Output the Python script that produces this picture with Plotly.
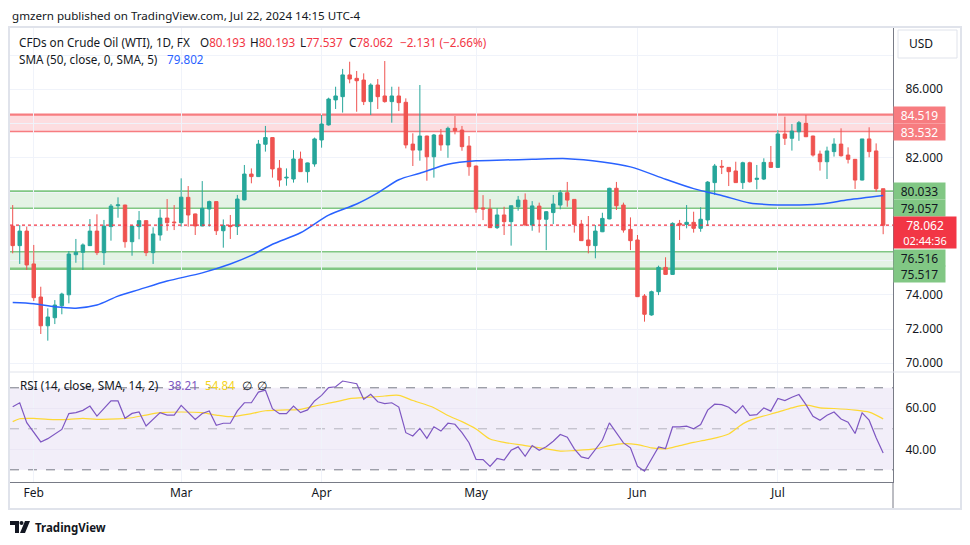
import pandas as pd
import plotly.graph_objects as go

# ---------------- data ----------------
dates = [d.strftime("%Y-%m-%d") for d in pd.bdate_range("2024-01-29", "2024-07-22")
         if d.strftime("%Y-%m-%d") != "2024-03-29"]

opens = [78.01, 76.87, 77.72, 75.80, 73.87, 72.19, 72.66, 73.36, 74.00, 76.34,
         76.48, 76.87, 77.72, 76.46, 77.98, 79.20, 79.24, 77.10, 77.98, 78.33,
         76.46, 77.49, 78.48, 78.25, 78.21, 79.69, 78.72, 78.02, 79.01, 79.44,
         77.74, 78.05, 77.98, 79.54, 81.05, 80.90, 82.79, 83.18, 81.39, 80.82,
         80.76, 81.93, 81.19, 81.64, 83.04, 83.92, 85.38, 85.57, 86.84, 86.64,
         86.54, 85.28, 86.25, 85.61, 85.28, 85.61, 85.24, 82.80, 82.45, 83.27,
         82.06, 83.33, 82.75, 83.72, 83.62, 82.69, 81.52, 79.07, 79.01, 77.92,
         78.66, 78.27, 79.14, 79.53, 78.07, 79.18, 78.41, 78.80, 79.24, 79.96,
         79.57, 78.13, 77.20, 76.87, 77.68, 78.43, 80.22, 79.24, 77.82, 77.20,
         73.93, 72.82, 74.18, 75.60, 75.19, 78.17, 78.11, 78.23, 77.88, 78.37,
         80.55, 81.50, 81.44, 81.23, 80.55, 81.71, 80.74, 80.76, 81.73, 81.44,
         83.39, 83.14, 83.52, 84.01, 83.27, 82.22, 81.77, 82.36, 82.80, 82.16,
         81.91, 80.70, 83.10, 82.40, 80.193]
highs = [79.24, 78.07, 77.98, 76.91, 74.47, 73.21, 73.69, 74.12, 76.55, 77.26,
         77.00, 78.42, 78.70, 78.37, 79.30, 79.69, 79.26, 78.05, 78.89, 78.35,
         77.94, 78.99, 79.59, 79.24, 80.80, 80.35, 78.74, 80.64, 79.50, 79.46,
         78.40, 78.66, 79.83, 81.58, 81.38, 83.04, 83.86, 83.20, 81.87, 81.38,
         82.45, 82.36, 81.72, 83.18, 84.50, 85.51, 86.15, 87.19, 87.61, 87.07,
         86.93, 86.35, 86.60, 87.65, 86.15, 86.15, 85.47, 83.43, 86.25, 83.29,
         83.39, 83.68, 83.82, 84.44, 83.86, 83.27, 81.54, 79.82, 79.59, 79.05,
         79.14, 79.20, 79.77, 79.92, 79.47, 79.38, 78.89, 79.83, 80.12, 80.59,
         79.59, 78.37, 78.60, 78.07, 78.79, 80.25, 80.59, 79.38, 78.52, 77.49,
         74.04, 74.24, 75.70, 76.19, 78.23, 78.37, 79.24, 78.85, 79.11, 80.64,
         81.64, 81.87, 81.46, 81.77, 81.77, 81.77, 81.58, 81.97, 82.69, 83.62,
         84.40, 83.97, 84.15, 84.50, 83.29, 82.42, 82.65, 83.14, 83.72, 82.61,
         81.93, 83.10, 83.78, 82.84, 80.193]
lows = [76.42, 75.80, 75.45, 73.64, 71.71, 71.32, 72.29, 72.86, 73.50, 75.87,
        75.45, 76.85, 76.32, 75.74, 77.16, 78.50, 76.75, 76.28, 77.24, 76.26,
        75.80, 77.16, 77.74, 77.78, 77.98, 77.98, 77.49, 78.00, 77.98, 77.49,
        76.75, 77.26, 77.49, 79.52, 80.51, 80.88, 82.36, 80.84, 80.31, 80.37,
        80.55, 81.17, 80.55, 81.48, 82.59, 83.88, 84.85, 84.64, 86.35, 84.69,
        85.08, 84.50, 84.85, 85.22, 84.05, 84.73, 82.55, 81.52, 81.83, 80.66,
        80.84, 82.41, 82.00, 83.37, 82.41, 80.95, 78.79, 78.36, 77.90, 77.84,
        77.49, 76.87, 78.91, 78.05, 77.74, 77.63, 76.61, 78.13, 78.99, 79.14,
        77.63, 77.14, 76.42, 76.13, 77.66, 78.41, 78.95, 77.63, 76.61, 73.87,
        72.43, 72.78, 73.98, 75.17, 75.17, 77.20, 77.88, 77.63, 77.68, 78.02,
        79.83, 81.05, 80.35, 80.53, 80.18, 80.55, 80.16, 80.70, 81.42, 81.42,
        82.75, 82.42, 82.99, 83.21, 82.07, 81.25, 80.76, 82.07, 82.07, 81.67,
        80.18, 80.68, 82.03, 80.02, 77.537]
closes = [76.87, 77.72, 75.74, 73.83, 72.19, 72.70, 73.40, 74.04, 76.38, 76.48,
          76.91, 77.72, 76.46, 78.01, 79.18, 79.25, 77.10, 78.01, 78.33, 76.46,
          77.55, 78.48, 78.21, 78.21, 79.70, 78.66, 78.02, 79.05, 79.44, 77.74,
          78.05, 77.98, 79.59, 81.05, 80.90, 82.80, 83.18, 81.35, 80.70, 80.86,
          81.93, 81.19, 81.70, 83.10, 83.97, 85.43, 85.61, 86.84, 86.60, 86.50,
          85.28, 86.25, 85.57, 85.28, 85.61, 85.22, 82.75, 82.45, 83.27, 82.06,
          83.33, 82.75, 83.72, 83.58, 82.65, 81.48, 79.01, 79.01, 77.92, 78.66,
          78.27, 79.20, 79.53, 78.07, 79.19, 78.41, 78.85, 79.30, 79.96, 79.53,
          78.11, 77.16, 76.87, 77.72, 78.46, 80.22, 79.20, 77.78, 77.16, 73.89,
          72.86, 74.18, 75.60, 75.19, 78.17, 78.07, 78.23, 77.88, 78.41, 80.58,
          81.52, 81.46, 81.19, 80.55, 81.71, 80.60, 80.80, 81.73, 81.44, 83.39,
          83.14, 83.56, 84.05, 83.23, 82.16, 81.77, 82.40, 82.80, 82.12, 81.91,
          80.70, 83.10, 82.36, 80.193, 78.062]

# SMA(50) readings at selected bars
sma_idx = [0, 3, 6, 9, 12, 15, 18, 22, 27, 31, 34, 37, 41, 45, 49, 52, 55, 58, 62, 66,
           70, 74, 79, 84, 88, 93, 97, 101, 105, 109, 115, 119, 124]
sma_val = [73.55, 73.48, 73.30, 73.22, 73.40, 73.92, 74.30, 74.80, 75.28, 75.80, 76.30,
           76.95, 77.62, 78.65, 79.30, 79.95, 80.72, 81.10, 81.62, 81.82, 81.87, 81.91,
           81.95, 81.76, 81.47, 80.75, 80.20, 79.80, 79.36, 79.25, 79.30, 79.55, 79.802]

rsi = [60.8, 62.7, 53.0, 48.1, 43.6, 45.2, 47.6, 49.7, 57.4, 57.9,
       59.0, 61.1, 56.2, 59.8, 63.6, 63.6, 55.1, 57.5, 58.2, 51.4,
       54.9, 57.9, 56.7, 56.7, 61.4, 57.9, 54.6, 57.5, 58.7, 51.7,
       52.7, 52.7, 58.7, 62.7, 62.7, 67.9, 68.8, 59.8, 57.4, 57.4,
       61.1, 57.9, 59.2, 63.6, 66.3, 70.1, 70.5, 73.3, 72.5, 72.0,
       64.4, 66.8, 63.2, 62.3, 62.7, 60.6, 48.1, 46.5, 50.2, 45.3,
       51.0, 48.9, 52.7, 52.2, 48.1, 43.2, 35.1, 35.0, 31.7, 35.5,
       34.7, 39.5, 41.2, 36.6, 41.8, 39.5, 41.2, 43.9, 47.2, 45.9,
       40.2, 36.3, 35.5, 39.9, 44.4, 52.9, 48.3, 43.1, 40.7, 31.7,
       29.3, 35.0, 41.2, 40.4, 50.9, 50.9, 51.3, 50.0, 52.1, 59.1,
       62.0, 61.8, 60.5, 57.6, 61.3, 56.6, 56.9, 60.2, 58.6, 64.8,
       63.8, 65.4, 66.7, 61.8, 56.1, 54.2, 56.6, 58.2, 54.8, 53.2,
       47.7, 57.8, 54.2, 45.6, 38.21]

rsima_idx = [0, 1, 3, 5, 8, 10, 12, 15, 17, 19, 21, 24, 27, 29, 31, 34, 36, 39, 41, 43,
             46, 48, 50, 53, 55, 57, 60, 62, 64, 66, 68, 70, 73, 76, 78, 80, 83, 85, 87, 89,
             91, 93, 95, 97, 99, 102, 104, 106, 109, 111, 113, 115, 117, 120, 122, 124]
rsima_val = [53.5, 54.9, 55.1, 54.6, 54.6, 55.1, 54.6, 54.8, 55.4, 56.7, 57.9, 58.2, 57.9,
             56.7, 55.9, 57.4, 58.8, 59.2, 59.5, 61.1, 63.1, 64.7, 65.2, 66.0, 66.3, 63.8,
             60.3, 56.5, 53.5, 49.9, 45.0, 43.4, 41.8, 40.2, 39.1, 39.4, 40.2, 41.8, 42.8,
             42.3, 40.7, 40.2, 41.8, 43.4, 44.7, 47.5, 52.4, 55.3, 58.1, 60.2, 61.5, 60.2,
             59.9, 59.1, 58.1, 54.84]

month_ticks = ["2024-02-01", "2024-03-01", "2024-04-01", "2024-05-01", "2024-06-03", "2024-07-01"]
month_labels = ["Feb", "Mar", "Apr", "May", "Jun", "Jul"]

price_ticks = [70, 72, 74, 76, 78, 80, 82, 84, 86, 88]
price_labels = ["70.000", "72.000", "74.000", "", "", "", "82.000", "", "86.000", ""]

resist_zone = [83.532, 84.519]
support_hi = [79.057, 80.033]
support_lo = [75.517, 76.516]
last_price = 78.062
countdown = "02:44:36"

# ---------------- styling helpers ----------------
W, H = 970, 545
L, R, T, B = 10, 893, 27, 482
PW, PH = R - L, B - T


def px(x):
    return (x - L) / PW


def py(y):
    return (B - y) / PH


UP, DOWN = "#26a69a", "#ef5350"
TXT = "#131722"
GRID = "#f0f3fa"
AXL = "#787b86"
FONT = "Noto Sans"
split = py(372)

fig = go.Figure()
fig.add_trace(go.Candlestick(
    x=dates, open=opens, high=highs, low=lows, close=closes,
    increasing=dict(line=dict(color=UP, width=1), fillcolor=UP),
    decreasing=dict(line=dict(color=DOWN, width=1), fillcolor=DOWN),
    whiskerwidth=0, showlegend=False, hoverinfo="skip"))
fig.add_trace(go.Scatter(
    x=[dates[i] for i in sma_idx], y=sma_val, mode="lines",
    line=dict(color="#2962ff", width=1.5, shape="spline", smoothing=0.8),
    showlegend=False, hoverinfo="skip"))
fig.add_trace(go.Scatter(
    x=[dates[i] for i in rsima_idx], y=rsima_val, mode="lines", yaxis="y2",
    line=dict(color="#fdd835", width=1.2, shape="spline", smoothing=0.8),
    showlegend=False, hoverinfo="skip"))
fig.add_trace(go.Scatter(
    x=dates, y=rsi, mode="lines", yaxis="y2",
    line=dict(color="#7e57c2", width=1.2),
    showlegend=False, hoverinfo="skip"))

shapes = []


def hline(y, color, width, dash="solid", yref="y", layer="below"):
    shapes.append(dict(type="line", xref="paper", x0=0, x1=1, yref=yref, y0=y, y1=y,
                       line=dict(color=color, width=width, dash=dash), layer=layer))


def zone(lo, hi, fill):
    shapes.append(dict(type="rect", xref="paper", x0=0, x1=1, yref="y", y0=lo, y1=hi,
                       fillcolor=fill, line=dict(width=0), layer="below"))


zone(resist_zone[0], resist_zone[1], "rgba(242,54,69,0.17)")
zone(support_hi[0], support_hi[1], "rgba(76,175,80,0.15)")
zone(support_lo[0], support_lo[1], "rgba(76,175,80,0.15)")
hline(resist_zone[1], "#f77c80", 2.2)
hline(resist_zone[0], "#f77c80", 1.5)
hline(support_hi[1], "#81c784", 2.5)
hline(support_hi[0], "#81c784", 1.5)
hline(support_lo[1], "#81c784", 1.5)
hline(support_lo[0], "#81c784", 2.5)
hline(last_price, "#f23645", 1.2, dash="dot", layer="above")

# RSI band and levels
shapes.append(dict(type="rect", xref="paper", x0=0, x1=1, yref="y2", y0=30, y1=70,
                   fillcolor="rgba(126,87,194,0.1)", line=dict(width=0), layer="below"))
hline(70, AXL, 1, dash="dash", yref="y2")
hline(30, AXL, 1, dash="dash", yref="y2")
hline(50, "rgba(120,123,134,0.5)", 1, dash="dash", yref="y2")

# pane separator, price axis extension, outer frame, USD button
shapes.append(dict(type="line", xref="paper", yref="paper", x0=0, x1=px(961), y0=split, y1=split,
                   line=dict(color="#e0e3eb", width=1)))
shapes.append(dict(type="line", xref="paper", yref="paper", x0=1, x1=1, y0=0, y1=py(509),
                   line=dict(color=AXL, width=1)))
shapes.append(dict(type="rect", xref="paper", yref="paper", x0=px(9), x1=px(961),
                   y0=py(509), y1=py(27), line=dict(color="#e0e3eb", width=2)))
shapes.append(dict(type="rect", xref="paper", yref="paper", x0=px(898), x1=px(957),
                   y0=py(58), y1=py(30), fillcolor="white", line=dict(color="#e0e3eb", width=1)))

# TradingView logo (icon)
shapes.append(dict(type="path", xref="paper", yref="paper",
                   path=f"M {px(10)},{py(521)} L {px(19)},{py(521)} L {px(19)},{py(533)} "
                        f"L {px(15)},{py(533)} L {px(15)},{py(525)} L {px(10)},{py(525)} Z",
                   fillcolor=TXT, line=dict(width=0)))
shapes.append(dict(type="circle", xref="paper", yref="paper", x0=px(19.5), x1=px(23.5),
                   y0=py(525), y1=py(521), fillcolor=TXT, line=dict(width=0)))
shapes.append(dict(type="path", xref="paper", yref="paper",
                   path=f"M {px(25)},{py(521)} L {px(30)},{py(521)} L {px(25)},{py(533)} "
                        f"L {px(20)},{py(533)} Z",
                   fillcolor=TXT, line=dict(width=0)))

ann = []


def text(x, y, s, size=12, color=TXT, anchor="left"):
    ann.append(dict(xref="paper", yref="paper", x=px(x), y=py(y), text=s, showarrow=False,
                    xanchor=anchor, yanchor="middle", font=dict(size=size, color=color, family=FONT)))


red = "#f23645"
text(10, 15, "gmzern published on TradingView.com, Jul 22, 2024 14:15 UTC-4", 11.6)
text(17, 42, "CFDs on Crude Oil (WTI), 1D, FX", 11.7)
text(198, 42, f"O<span style='color:{red}'>{opens[-1]:.3f}</span>", 11.7)
text(248, 42, f"H<span style='color:{red}'>{highs[-1]:.3f}</span>", 11.7)
text(298, 42, f"L<span style='color:{red}'>{lows[-1]:.3f}</span>", 11.7)
text(347, 42, f"C<span style='color:{red}'>{closes[-1]:.3f}</span>", 11.7)
chg = closes[-1] - closes[-2]
text(398, 42, f"−{abs(chg):.3f} (−{abs(chg) / closes[-2] * 100:.2f}%)", 11.7, red)
text(17, 59, "SMA (50, close, 0, SMA, 5)", 11.7)
text(165, 59, f"{sma_val[-1]:.3f}", 11.7, "#2962ff")
text(18, 385, "RSI (14, close, SMA, 14, 2)", 11.7)
text(166, 385, f"{rsi[-1]:.2f}", 11.7, "#7e57c2")
text(203, 385, f"{rsima_val[-1]:.2f}", 11.7, "#f5d422")
text(240, 385, "∅", 11.7)
text(255, 385, "∅", 11.7)
text(907, 44, "USD", 12)
text(33, 527, "<b>TradingView</b>", 11.5)


def axis_label(y, s, bg, fg, w=49, h=14, yshift=0, size=12):
    ann.append(dict(xref="paper", yref="y", x=1, y=y, text=s, showarrow=False,
                    xanchor="left", yanchor="middle", bgcolor=bg, width=w, height=h,
                    borderpad=1, align="center", yshift=yshift,
                    font=dict(size=size, color=fg, family=FONT)))


axis_label(resist_zone[1], f"{resist_zone[1]:.3f}", "#f77c80", "white")
axis_label(resist_zone[0], f"{resist_zone[0]:.3f}", "#f77c80", "white")
axis_label(support_hi[1], f"{support_hi[1]:.3f}", "#81c784", TXT)
axis_label(support_hi[0], f"{support_hi[0]:.3f}", "#81c784", TXT)
axis_label(support_lo[0], f"{support_lo[0]:.3f}", "#81c784", TXT, yshift=-5.5)
axis_label(support_lo[1], f"{support_lo[1]:.3f}", "#81c784", TXT, yshift=-6)
axis_label(last_price, f"{last_price:.3f}<br><span style='font-size:11px'>{countdown}</span>",
           "#f23645", "white", w=60, h=29, yshift=-7)

fig.update_layout(
    width=W, height=H, margin=dict(l=L, r=W - R, t=T, b=H - B),
    paper_bgcolor="white", plot_bgcolor="white",
    font=dict(family=FONT, size=12, color=TXT),
    shapes=shapes, annotations=ann, showlegend=False,
    xaxis=dict(type="category", categoryorder="array", categoryarray=dates,
               range=[-0.385, 125.4], domain=[0, 1], anchor="y2",
               tickmode="array", tickvals=month_ticks, ticktext=month_labels,
               showgrid=True, gridcolor=GRID, gridwidth=1, showline=True, linecolor=AXL,
               ticks="", tickfont=dict(size=12, color=TXT), rangeslider=dict(visible=False),
               zeroline=False),
    yaxis=dict(domain=[split, 1], range=[69.49, 89.638], side="right", anchor="x",
               tickmode="array", tickvals=price_ticks, ticktext=price_labels,
               showgrid=True, gridcolor=GRID, showline=True, linecolor=AXL, ticks="",
               ticklabelstandoff=9, zeroline=False, tickfont=dict(size=12, color=TXT)),
    yaxis2=dict(domain=[0, split], range=[24.05, 77.7], side="right", anchor="x",
                tickmode="array", tickvals=[40, 60], ticktext=["40.00", "60.00"],
                showgrid=True, gridcolor="#ebe7f5", showline=True, linecolor=AXL, ticks="",
                ticklabelstandoff=9, zeroline=False, tickfont=dict(size=12, color=TXT)),
)

fig.write_html("out.html")
